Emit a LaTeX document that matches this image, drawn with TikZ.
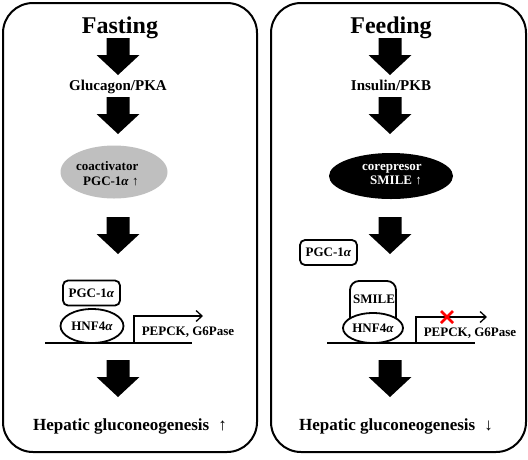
\documentclass[tikz,border=0pt]{standalone}
\usepackage{fontspec}
\setmainfont{Liberation Serif}
\usetikzlibrary{arrows.meta,shapes.geometric}
\begin{document}
\begin{tikzpicture}[x=1pt,y=-1pt,
  panel/.style={draw, line width=2pt, rounded corners=30pt},
  titletext/.style={font=\fontsize{24}{28}\selectfont\bfseries, anchor=base, inner sep=0},
  sigtext/.style={font=\fontsize{15}{18}\selectfont\bfseries, anchor=base, inner sep=0},
  elltext/.style={font=\fontsize{13}{15}\selectfont\bfseries, anchor=base west, inner sep=0},
  genetext/.style={font=\fontsize{13}{15}\selectfont\bfseries, anchor=base, inner sep=0},
  outtext/.style={font=\fontsize{17}{20}\selectfont\bfseries, anchor=base west, inner sep=0},
  factorbox/.style={draw, fill=white, line width=1.8pt, rounded corners=5pt, minimum width=57pt, minimum height=25pt, inner sep=0, font=\fontsize{13}{15}\selectfont\bfseries},
  factorell/.style={draw, fill=white, ellipse, line width=1.8pt, inner sep=0, font=\fontsize{13}{15}\selectfont\bfseries},
  dnaline/.style={line width=1.8pt},
  promoter/.style={line width=1.3pt, -{Straight Barb[length=6pt,width=11pt]}},
  bigdown/.pic={\fill (-11.5,0) -- (11.5,0) -- (11.5,17) -- (21.5,17) -- (0,37) -- (-21.5,17) -- (-11.5,17) -- cycle;}
]
\useasboundingbox (0,0) rectangle (528,459);

% panels
\draw[panel] (3,3) rectangle (257,452);
\draw[panel] (271,3) rectangle (526,452);

% ---------- Fasting ----------
\node[titletext] (fast) at (120,33) {Fasting};
\pic at (118,38) {bigdown};
\node[sigtext] (glu) at (118,90) {Glucagon/PKA};
\pic at (118,97) {bigdown};
\node[draw=none, fill=black!25, ellipse, minimum width=107pt, minimum height=53pt] (coact) at (114,172) {};
\node[elltext] (coactA) at (76,170) {coactivator};
\node[elltext] (coactB) at (83,185) {PGC-1\textit{α} ↑};
\pic at (118,217) {bigdown};
\node[factorbox] (pgcL) at (91.5,293) {PGC-1\textit{α}};
\node[factorell, minimum width=63pt, minimum height=34pt] (hnfL) at (92,326) {HNF4\textit{α}};
\coordinate (dnaLa) at (45,343);
\coordinate (dnaLb) at (192,343);
\draw[dnaline] (dnaLa) -- (dnaLb);
\coordinate (tssL) at (134,343);
\coordinate (tssLend) at (203,316);
\draw[promoter] (tssL) |- (tssLend);
\node[genetext] (geneL) at (188,335) {PEPCK, G6Pase};
\pic at (118,360) {bigdown};
\node[outtext] (outL) at (33,430) {Hepatic gluconeogenesis\hspace{9pt}↑};

% ---------- Feeding ----------
\node[titletext] (feed) at (391,33) {Feeding};
\pic at (390,38) {bigdown};
\node[sigtext] (ins) at (391,90) {Insulin/PKB};
\pic at (390,97) {bigdown};
\node[draw=none, fill=black, ellipse, minimum width=124pt, minimum height=46pt] (corep) at (391,176) {};
\node[elltext, text=white] (corepA) at (362,170) {corepresor};
\node[elltext, text=white] (corepB) at (370,184) {SMILE ↑};
\pic at (390,217) {bigdown};
\node[factorbox] (pgcR) at (328.5,252.5) {PGC-1\textit{α}};
\coordinate (smA) at (350,320);
\coordinate (smB) at (350,281);
\coordinate (smC) at (396,281);
\coordinate (smD) at (396,320);
\draw[line width=1.8pt, fill=white, rounded corners=9pt] (smA) -- (smB) -- (smC) -- (smD);
\node[font=\fontsize{13}{15}\selectfont\bfseries, anchor=base, inner sep=0] (smile) at (374,303) {SMILE};
\node[factorell, minimum width=60pt, minimum height=30pt] (hnfR) at (373,328) {HNF4\textit{α}};
\coordinate (dnaRa) at (327,343);
\coordinate (dnaRb) at (475,343);
\draw[dnaline] (dnaRa) -- (dnaRb);
\coordinate (tssR) at (416,343);
\coordinate (tssRend) at (487,317);
\draw[promoter] (tssR) |- (tssRend);
\coordinate (blk) at (447,317);
\draw[red, line width=2.5pt] ([shift={(-6,-6)}]blk) -- ([shift={(6,6)}]blk);
\draw[red, line width=2.5pt] ([shift={(-6,6)}]blk) -- ([shift={(6,-6)}]blk);
\node[genetext] (geneR) at (470,336) {PEPCK, G6Pase};
\pic at (390,360) {bigdown};
\node[outtext] (outR) at (299,430) {Hepatic gluconeogenesis\hspace{9pt}↓};
\end{tikzpicture}
\end{document}
